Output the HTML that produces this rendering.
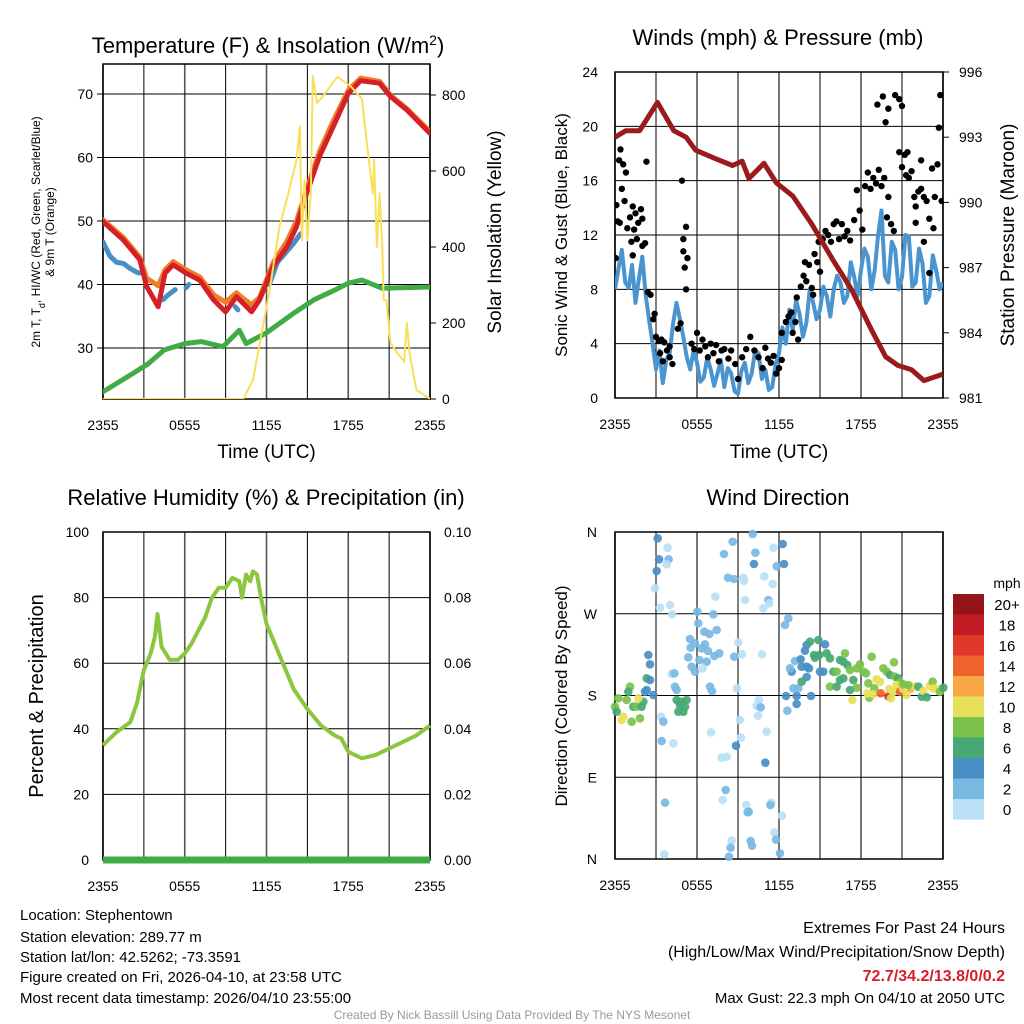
<!DOCTYPE html>
<html><head><meta charset="utf-8">
<style>
html,body{margin:0;padding:0;background:#fff;}
svg{display:block;font-family:"Liberation Sans",Arial,sans-serif;}
</style></head>
<body>
<svg id="c" width="1024" height="1024" viewBox="0 0 1024 1024" xmlns="http://www.w3.org/2000/svg">
<defs>
<clipPath id="cp1"><rect x="103" y="64" width="327" height="335"/></clipPath>
<clipPath id="cp2"><rect x="615" y="72" width="328" height="326"/></clipPath>
</defs>
<g font-size="22" text-anchor="middle">
<text x="268" y="53">Temperature (F) &amp; Insolation (W/m<tspan baseline-shift="super" font-size="14">2</tspan>)</text>
<text x="778" y="45">Winds (mph) &amp; Pressure (mb)</text>
<text x="266" y="505">Relative Humidity (%) &amp; Precipitation (in)</text>
<text x="778" y="505">Wind Direction</text>
</g>
<g id="layer"></g>
<g font-size="15">
<text x="20" y="920">Location: Stephentown</text>
<text x="20" y="942">Station elevation: 289.77 m</text>
<text x="20" y="962">Station lat/lon: 42.5262; -73.3591</text>
<text x="20" y="982">Figure created on Fri, 2026-04-10, at 23:58 UTC</text>
<text x="20" y="1003">Most recent data timestamp: 2026/04/10 23:55:00</text>
<g text-anchor="end" font-size="16">
<text x="1005" y="933">Extremes For Past 24 Hours</text>
<text x="1005" y="957">(High/Low/Max Wind/Precipitation/Snow Depth)</text>
<text x="1005" y="981" fill="#d4202a" font-weight="bold">72.7/34.2/13.8/0/0.2</text>
<text x="1005" y="1003" font-size="15">Max Gust: 22.3 mph On 04/10 at 2050 UTC</text>
</g>
<text x="512" y="1019" text-anchor="middle" font-size="12" fill="#999">Created By Nick Bassill Using Data Provided By The NYS Mesonet</text>
</g>
</svg>
<script>
// ---- data ----
const xTickLabels = ["2355","0555","1155","1755","2355"];
const tempH = [0,1.5,2.7,3.2,4.05,4.55,5.15,6.1,7.1,8.1,9.0,9.8,10.3,10.9,11.5,12.5,13.5,14.2,14.95,15.9,16.9,18,18.9,20.3,21.1,22.3,24];
const tempRed = [49.9,47.0,43.9,39.7,36.5,41.8,43.1,41.8,40.7,37.6,35.7,38.1,37.0,35.7,37.6,42.9,45.9,49.1,54.4,60.2,64.9,70.1,72.1,71.7,69.6,67.5,63.8];
const tempOrange = [50.2,47.4,44.3,41.0,39.8,42.3,43.6,42.3,41.2,38.4,37.2,38.7,37.8,36.8,38.0,43.5,46.8,50.0,55.0,61.0,65.8,70.6,72.5,72.0,69.8,67.7,64.1];
const wcH = [0,0.5,1,1.5,2,2.5,2.7,null,4.4,4.8,5.3,null,6.1,6.3,null,9.7,9.9,null,12.2,12.8,13.4,14.0,14.5];
const wcVals = [46.7,44.5,43.5,43.3,42.5,41.9,41.8,null,37.6,38.4,39.2,null,39.5,40.0,null,36.5,36.0,null,40.0,43.5,45.0,46.5,48.0];
const dewH = [0,2.2,3.3,4.5,6,7.2,8.8,10,10.5,12,14,15.5,17,18,19,20.5,24];
const dewVals = [23.1,26.0,27.5,29.7,30.7,31.0,30.2,32.8,30.7,32.4,35.5,37.6,39.1,40.2,40.7,39.4,39.6];
const solarH = [0,10.3,11.0,12.2,12.95,13.6,14.2,14.45,14.6,14.8,15.0,15.25,15.4,15.7,16.1,17.2,18.2,19.0,19.4,19.8,19.9,20.1,20.3,20.5,20.6,20.8,21.1,21.6,22.1,22.3,22.5,23.0,24];
const solarVals = [0,0,50,279,453,541,629,717,418,576,418,541,850,779,795,848,822,790,664,541,629,400,541,400,260,260,147,121,98,200,121,24,0];
const tempTicks = [30,40,50,60,70];
const solarTicks = [0,200,400,600,800];

const windVals = [8,9.5,10.9,8.5,8.1,9.8,7,8.8,10.4,7.5,5.7,4,2.1,3.5,1.1,2.8,3.3,5.5,7,5.8,4.5,3,2.1,3.5,2.6,1.2,1.5,3,2.1,0.9,1.8,2.8,0.8,2.2,1.8,0.5,0.3,2,2.6,1.1,1.8,3.5,3.3,1.4,2.1,0.6,0.8,2.5,3.3,5.2,4,6.5,5,7.2,6.2,4.5,5.5,8,7,5.8,6.5,8.2,7.5,6,8,9,8.5,7,7.5,10,8.9,7.5,9.4,11,10.4,8,9.4,12,13.8,9,8.5,11.5,10.9,8,8.9,12,11.9,8.2,8.5,11,9.9,7,7.5,10.5,9.4,8,8.5];
const presH = [0,0.8,1.8,3.1,4.3,5.2,5.9,7.4,8.6,9.3,9.8,10.9,11.8,13.0,14.4,15.9,17.3,18.8,19.8,20.7,21.7,22.6,24];
const presVals = [993.0,993.3,993.3,994.6,993.3,993.0,992.4,992.0,991.7,991.9,991.1,991.8,990.9,990.3,989.0,987.4,986.0,984.1,982.9,982.5,982.3,981.8,982.1];
const gustH = [0.05,0.2,0.3,0.4,0.6,0.8,0.5,0.7,0.1,0.35,0.9,1.1,1.3,1.5,1.7,1.9,1.4,1.6,2.0,2.2,1.2,1.3,2.3,2.0,2.4,2.6,2.8,2.9,3.0,3.2,3.4,3.6,3.3,3.5,3.8,4.0,4.2,4.0,4.6,4.9,5.0,5.2,5.0,5.3,5.1,5.2,4.8,5.6,5.8,6.0,6.2,6.4,6.6,6.8,7.0,7.2,7.4,7.6,7.8,8.0,8.3,8.5,8.8,9.0,9.3,9.6,9.9,10.2,10.5,10.8,11.0,11.2,11.4,11.6,11.8,12.0,12.2,12.2,12.5,12.7,12.9,13.0,13.2,13.3,13.4,13.6,13.8,14.0,13.9,14.2,14.4,14.5,14.6,14.8,15.0,14.9,15.2,15.4,15.6,15.8,16.0,16.2,16.4,16.6,16.8,17.0,17.2,17.5,17.7,17.9,18.1,18.3,18.5,18.7,18.9,19.1,19.3,19.5,19.7,19.9,20.0,20.2,20.4,19.6,20.0,19.2,20.5,20.8,21.0,20.8,21.2,21.4,21.3,21.5,21.7,21.9,22.0,22.2,22.4,22.6,22.8,22.6,23.0,23.2,23.4,23.6,23.7,23.8,23.9,22.4,22.0,21.0,19.8,23.0,23.3];
const gustVals = [10.3,13,17.5,18.3,17.2,16.6,15.4,14.5,14.2,12.9,12.5,13.3,14.1,13.6,12.9,13.9,12.4,11.7,11.2,11.4,11.5,10.5,17.4,13.2,7.8,7.6,5.8,6.2,4.5,4.2,4.3,4.1,3.3,2.7,3.5,3.8,2.5,3.0,5.1,16,11.7,12.6,10.8,10.3,9.6,8.0,5.5,4.0,3.6,4.8,3.5,4.3,3.8,3.0,4.0,3.3,3.9,2.7,3.5,3.6,2.9,3.5,2.5,1.4,3.0,3.6,4.5,3.5,3.0,2.2,3.7,2.9,2.6,3.1,1.8,2.2,2.8,4.8,5.6,6.0,6.3,4.8,5.6,7.4,4.3,8.2,9.0,8.6,10.0,9.8,8.1,7.6,10.6,10.0,9.3,11.5,11.7,12.3,12.0,11.5,12.8,13.0,11.7,12.8,11.9,12.3,11.6,13.1,15.3,13.8,12.4,15.6,16.6,15.4,16.2,15.8,16.8,15.6,16.2,13.3,14.8,12.8,12.3,22.2,21.3,21.6,22.3,22.0,21.5,18.1,17.9,18.1,16.4,16.2,16.7,14.8,14.1,15.2,15.4,14.8,14.5,11.5,13.2,16.9,14.8,17.2,19.9,22.3,14.5,17.5,12.9,17.0,20.3,9.2,12.5];
const windTicks = [0,4,8,12,16,20,24];
const presTicks = [981,984,987,990,993,996];

const rhH = [0,1,2,2.5,3,3.5,3.8,4.0,4.3,4.9,5.5,6,6.5,7,7.5,8,8.5,9,9.5,10,10.2,10.5,10.8,11,11.3,11.6,12,12.5,13,14,15,16,17,17.5,18,19,20,21,22,23,24];
const rhVals = [35,39,42,48,58,63,68,75,65,61,61,63,66,70,74,80,83,83,86,85,80,87,85,88,87,80,72,67,62,52,46,41,38,37,33,31,32,34,36,38,41];
const rhTicks = [0,20,40,60,80,100];
const precipTicks = ["0.00","0.02","0.04","0.06","0.08","0.10"];

const dirX = [15,25,40,35,50,60,55,70,80,90,95,100,85,65,105,110,110,120,130,115,120,20,143,173,147,176,170,140,135,150,180,187,200,210,220,230,215,225,205,195,200,185,193,153,160,155,190,165,163,262,265,283,298,310,240,255,242,275,285,294,235,268,290,245,278,255,320,328,313,300,306,342,368,354,372,316,385,373,396,381,303,390,393,378,335,350,347,338,365,362,357,400,402,428,436,432,405,463,460,475,478,488,490,500,518,522,535,525,456,446,440,452,444,470,466,409,413,416,484,481,516,422,426,493,498,510,528,532,560,560,603,550,565,545,540,555,572,575,590,597,590,575,585,590,600,615,625,645,640,630,612,628,650,660,670,680,690,700,705,712,720,660,680,690,700,730,740,750,760,768,785,740,720,775,778,793,800,810,820,830,840,852,855,865,870,727,772,790,812,835,843,838,850,860,870,880,890,903,915,925,935,940,950,960,968,970,980,990,1000,880,895];
const dirY = [545,520,575,585,525,485,500,545,545,580,545,530,520,590,500,495,460,465,510,390,418,560,40,68,103,103,118,138,190,248,240,268,525,540,560,525,530,545,560,485,495,447,445,575,590,648,655,833,988,260,295,320,327,268,342,355,368,370,358,378,397,405,410,425,430,440,315,385,393,485,498,87,50,158,162,215,352,395,388,490,622,585,638,662,698,695,795,825,947,968,995,158,168,27,83,117,225,154,250,225,235,177,68,124,57,117,280,300,388,525,542,547,572,620,713,840,862,860,833,840,872,948,962,922,944,985,513,557,513,537,513,490,490,440,430,408,403,425,425,430,456,470,377,360,350,398,345,358,440,440,390,390,385,400,440,440,405,410,385,420,435,485,485,465,460,465,430,418,440,445,395,488,495,475,518,490,463,470,430,440,450,412,455,460,472,525,505,508,505,514,520,492,500,480,500,492,510,490,484,485,515,498,517,482,470,490,492,500,488,478,480];
const dirSpd = [8,8,10,10,8,8,6,6,8,8,6,6,10,8,4,4,6,4,4,4,4,6,4,0,4,2,0,4,0,0,0,0,6,6,6,6,6,6,6,2,2,0,2,0,2,2,0,2,0,2,2,2,2,2,2,2,2,2,2,2,2,2,2,2,0,2,2,2,2,2,2,2,2,2,2,0,0,2,0,0,0,0,0,4,0,0,2,0,0,2,2,0,0,2,2,4,0,0,0,2,0,0,0,2,4,4,2,2,0,0,0,2,0,0,4,0,2,2,0,2,0,2,2,0,2,2,4,2,4,4,4,2,2,4,2,2,4,4,4,4,4,6,4,4,6,6,6,4,4,4,6,6,6,6,6,8,6,6,8,6,8,8,6,6,6,6,8,8,8,8,8,8,6,8,8,8,10,10,8,8,6,8,8,6,8,10,10,10,14,16,10,10,10,10,14,10,10,12,10,6,6,10,6,10,8,10,10,8,6,8,8];
const cbLabels = ["20+","18","16","14","12","10","8","6","4","2","0"];
const cbColors = ["#951419","#c11c24","#e0382b","#f0622b","#f8a946","#e8e05a","#7bc24b","#46a872","#4a8ec6","#7ab8e4","#b9e0f5"];

// ---- helpers ----
const NS = "http://www.w3.org/2000/svg";
const layer = document.getElementById('layer');
function mk(tag, attrs, parent){
  const e = document.createElementNS(NS, tag);
  for (const k in attrs) e.setAttribute(k, attrs[k]);
  (parent||layer).appendChild(e);
  return e;
}
function txt(x,y,s,size,anchor,parent){
  const t = mk('text',{x:x,y:y,'font-size':size,'text-anchor':anchor||'middle'},parent);
  t.textContent = s; return t;
}
function lineFrom(hs, vs, xf, yf){
  let d = ""; let pen = false;
  for (let i=0;i<hs.length;i++){
    if (hs[i]===null || vs[i]===null){ pen=false; continue; }
    d += (pen?"L":"M") + xf(hs[i]).toFixed(1) + "," + yf(vs[i]).toFixed(1);
    pen = true;
  }
  return d;
}
function frame(x0,y0,x1,y1,gtop,name){
  const g = mk('g',{});
  
  
  for (let i=0;i<=8;i++){
    const x = x0 + (x1-x0)*i/8;
    const v = mk('line',{x1:x,x2:x,y1:gtop,y2:y1,stroke:(i%2? "#000":"#555"),'stroke-width':(i%2?1:1.6)},g);
    
    
  }
  return g;
}
const tx = (x0,x1)=> h => x0 + (x1-x0)*h/24;

// ---- panel 1 ----
(function(){
  const x0=103,x1=430,y0=71,y1=399;
  const X = tx(x0,x1);
  const YT = t => 94 + (70-t)*6.35;
  const YS = w => 399 - w*0.38;
  const g = frame(x0,y0,x1,y1,64,'temperature-panel');
  tempTicks.forEach(t=>{
    mk('line',{x1:x0,x2:x1,y1:YT(t),y2:YT(t),stroke:'#000','stroke-width':1},g);
    mk('line',{x1:x0-6,x2:x0,y1:YT(t),y2:YT(t),stroke:'#000'},g);
    const l = txt(x0-10,YT(t)+5,String(t),14,'end',g);
    
    
  });
  solarTicks.forEach(w=>{
    mk('line',{x1:x1,x2:x1+6,y1:YS(w),y2:YS(w),stroke:'#000'},g);
    const l = txt(x1+12,YS(w)+5,String(w),14,'start',g);
    
    
  });
  mk('rect',{x:x0,y:64,width:x1-x0,height:y1-64,fill:'none',stroke:'#000','stroke-width':1.5},g);
  xTickLabels.forEach((s,i)=>{
    const l = txt(x0+(x1-x0)*i/4, y1+31, s, 14, 'middle', g);
    
    
  });
  const cg = mk('g',{'clip-path':'url(#cp1)',fill:'none','stroke-linejoin':'round','stroke-linecap':'round'},g);
  const dew = mk('path',{d:lineFrom(dewH,dewVals,X,YT),stroke:'#41ac45','stroke-width':5},cg);
  
  
  const wc = mk('path',{d:lineFrom(wcH,wcVals,X,YT),stroke:'#4a8ec6','stroke-width':5},cg);
  
  
  const or = mk('path',{d:lineFrom(tempH,tempOrange,X,YT),stroke:'#f07d2a','stroke-width':5},cg);
  
  
  const rd = mk('path',{d:lineFrom(tempH,tempRed,X,YT),stroke:'#d42026','stroke-width':5},cg);
  
  
  const so = mk('path',{d:lineFrom(solarH,solarVals,X,YS),stroke:'#f8e05a','stroke-width':2},cg);
  
  
  const xl = txt((x0+x1)/2,458,'Time (UTC)',19,'middle',g);
  
  
  const yl = mk('text',{transform:'translate(40,232) rotate(-90)','font-size':12,'text-anchor':'middle'},g);
  yl.innerHTML = '2m T, T<tspan baseline-shift="sub" font-size="9">d</tspan>, HI/WC (Red, Green, Scarlet/Blue)';
  
  
  const yl2 = mk('text',{transform:'translate(54,232) rotate(-90)','font-size':12,'text-anchor':'middle'},g);
  yl2.textContent = '& 9m T (Orange)';
  
  
  const yr = mk('text',{transform:'translate(501,232) rotate(-90)','font-size':19,'text-anchor':'middle'},g);
  yr.textContent = 'Solar Insolation (Yellow)';
  
  
})();

// ---- panel 2 ----
(function(){
  const x0=615,x1=943,y0=72,y1=398;
  const X = tx(x0,x1);
  const YW = v => y1 - v*(y1-y0)/24;
  const YP = p => y1 - (p-981)*(y1-y0)/15;
  const g = frame(x0,y0,x1,y1,y0,'winds-panel');
  windTicks.forEach(v=>{
    mk('line',{x1:x0,x2:x1,y1:YW(v),y2:YW(v),stroke:'#000','stroke-width':1},g);
    const l = txt(x0-17,YW(v)+5,String(v),14,'end',g);
    
    
  });
  presTicks.forEach(p=>{
    mk('line',{x1:x1,x2:x1+6,y1:YP(p),y2:YP(p),stroke:'#000'},g);
    const l = txt(x1+16,YP(p)+5,String(p),14,'start',g);
    
    
  });
  mk('rect',{x:x0,y:y0,width:x1-x0,height:y1-y0,fill:'none',stroke:'#000','stroke-width':1.5},g);
  xTickLabels.forEach((s,i)=>{
    const l = txt(x0+(x1-x0)*i/4, y1+31, s, 14, 'middle', g);
    
    
  });
  const cg = mk('g',{'clip-path':'url(#cp2)'},g);
  const wh = windVals.map((v,i)=> i*24/(windVals.length-1));
  const w = mk('path',{d:lineFrom(wh,windVals,X,YW),stroke:'#4a94d0','stroke-width':4,fill:'none','stroke-linejoin':'round'},cg);
  
  
  gustH.forEach((h,i)=>{
    const c = mk('circle',{cx:X(h),cy:YW(gustVals[i]),r:3.2,fill:'#000'},cg);
    
    
  });
  const p = mk('path',{d:lineFrom(presH,presVals,X,YP),stroke:'#9b1a1c','stroke-width':5,fill:'none','stroke-linejoin':'round'},cg);
  
  
  const xl = txt((x0+x1)/2,458,'Time (UTC)',19,'middle',g);
  
  
  const yl = mk('text',{transform:'translate(567,235) rotate(-90)','font-size':17,'text-anchor':'middle'},g);
  yl.textContent = 'Sonic Wind & Gust (Blue, Black)';
  
  
  const yr = mk('text',{transform:'translate(1014,235) rotate(-90)','font-size':19,'text-anchor':'middle'},g);
  yr.textContent = 'Station Pressure (Maroon)';
  
  
})();

// ---- panel 3 ----
(function(){
  const x0=103,x1=430,y0=532,y1=860;
  const X = tx(x0,x1);
  const Y = v => y1 - v*(y1-y0)/100;
  const g = frame(x0,y0,x1,y1,y0,'humidity-panel');
  rhTicks.forEach((v,i)=>{
    mk('line',{x1:x0,x2:x1,y1:Y(v),y2:Y(v),stroke:'#000','stroke-width':1},g);
    const l = txt(x0-14,Y(v)+5,String(v),14,'end',g);
    
    
    const r = txt(x1+14,Y(v)+5,precipTicks[i],14,'start',g);
    
    
  });
  mk('rect',{x:x0,y:y0,width:x1-x0,height:y1-y0,fill:'none',stroke:'#000','stroke-width':1.5},g);
  xTickLabels.forEach((s,i)=>{
    const l = txt(x0+(x1-x0)*i/4, y1+31, s, 14, 'middle', g);
    
    
  });
  const pr = mk('line',{x1:x0,x2:x1,y1:y1,y2:y1,stroke:'#41ac45','stroke-width':7},g);
  
  
  const rh = mk('path',{d:lineFrom(rhH,rhVals,X,Y),stroke:'#8cc63f','stroke-width':4,fill:'none','stroke-linejoin':'round'},g);
  
  
  const yl = mk('text',{transform:'translate(43,696) rotate(-90)','font-size':20,'text-anchor':'middle'},g);
  yl.textContent = 'Percent & Precipitation';
  
  
})();

// ---- panel 4 ----
(function(){
  const x0=615,x1=943,y0=532,y1=859;
  const g = frame(x0,y0,x1,y1,y0,'wind-direction-panel');
  const dirLabels = ["N","E","S","W","N"];
  dirLabels.forEach((s,i)=>{
    const y = y1 - (y1-y0)*i/4;
    mk('line',{x1:x0,x2:x1,y1:y,y2:y,stroke:'#000','stroke-width':1},g);
    const l = txt(x0-18,y+5,s,14,'end',g);
    
    
  });
  mk('rect',{x:x0,y:y0,width:x1-x0,height:y1-y0,fill:'none',stroke:'#000','stroke-width':1.5},g);
  xTickLabels.forEach((s,i)=>{
    const l = txt(x0+(x1-x0)*i/4, y1+31, s, 14, 'middle', g);
    
    
  });
  dirX.forEach((zx,i)=>{
    const cls = Math.min(10, Math.floor(dirSpd[i]/2));
    const c = mk('circle',{cx:610+zx/3,cy:525+dirY[i]/3,r:4.3,fill:cbColors[10-cls],'fill-opacity':0.92},g);
    
    
  });
  const yl = mk('text',{transform:'translate(567,696) rotate(-90)','font-size':17,'text-anchor':'middle'},g);
  yl.textContent = 'Direction (Colored By Speed)';
  
  
  const cb = mk('g',{},g);
  
  
  const mph = txt(1007,588,'mph',14,'middle',cb);
  
  
  cbLabels.forEach((s,i)=>{
    const y = 594 + i*20.5;
    const r = mk('rect',{x:953,y:y,width:31,height:20.6,fill:cbColors[i]},cb);
    
    
    const l = txt(1007,y+16,s,15,'middle',cb);
    
    
  });
})();
</script>
</body></html>
